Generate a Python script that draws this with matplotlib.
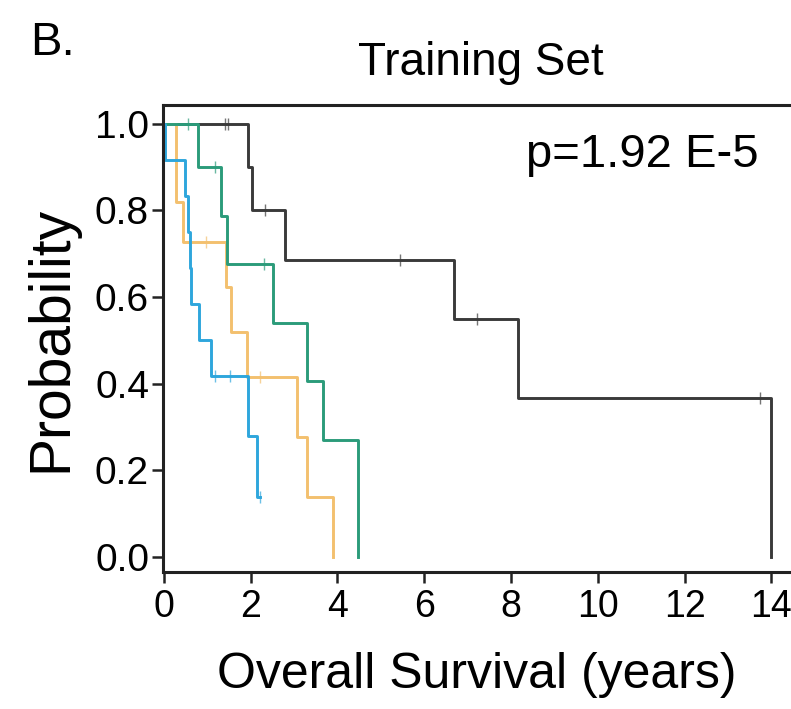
import matplotlib.pyplot as plt

plt.rcParams['font.family'] = ['Liberation Sans', 'DejaVu Sans']

# Kaplan-Meier steps (time in years, survival probability)
black_t = [0.0, 1.94, 2.02, 2.79, 6.68, 8.16, 14.0]
black_s = [1.0, 0.90, 0.80, 0.686, 0.549, 0.366, 0.0]
black_ct = [1.41, 1.47, 2.33, 5.45, 7.21, 13.73]
black_cs = [1.0, 1.0, 0.80, 0.686, 0.549, 0.366]

yellow_t = [0.0, 0.28, 0.29, 0.44, 1.43, 1.54, 1.92, 3.06, 3.29, 3.90]
yellow_s = [1.0, 0.909, 0.818, 0.727, 0.623, 0.519, 0.415, 0.277, 0.138, 0.0]
yellow_ct = [0.97, 2.21]
yellow_cs = [0.727, 0.415]

green_t = [0.0, 0.78, 1.31, 1.45, 2.51, 3.29, 3.66, 4.47]
green_s = [1.0, 0.90, 0.7875, 0.675, 0.54, 0.405, 0.27, 0.0]
green_ct = [0.55, 1.18, 2.31]
green_cs = [1.0, 0.90, 0.675]

blue_t = [0.0, 0.02, 0.48, 0.56, 0.60, 0.62, 0.81, 1.08, 1.94, 2.15, 2.21]
blue_s = [1.0, 0.917, 0.833, 0.75, 0.667, 0.583, 0.50, 0.417, 0.278, 0.139, 0.139]
blue_ct = [1.18, 1.52, 2.21]
blue_cs = [0.417, 0.417, 0.139]

x_ticks = [0, 2, 4, 6, 8, 10, 12, 14]
y_ticks = [0.0, 0.2, 0.4, 0.6, 0.8, 1.0]

groups = [
    (black_t, black_s, black_ct, black_cs, '#3a3a3a'),
    (yellow_t, yellow_s, yellow_ct, yellow_cs, '#f3c06e'),
    (green_t, green_s, green_ct, green_cs, '#2b9b7a'),
    (blue_t, blue_s, blue_ct, blue_cs, '#2ea6dc'),
]

fig = plt.figure(figsize=(7.91, 7.09), dpi=100)
ax = fig.add_axes([163 / 791, 1 - 572 / 709, 1 - 163 / 791, (572 - 105) / 709])

for t, s, ct, cs, col in groups:
    ax.step(t, s, where='post', color=col, lw=2.1)
    ax.plot(ct, cs, ls='none', marker='|', ms=9, mew=1.0, color=col, alpha=0.7)

ax.set_xlim(-0.02, 14.45)
ax.set_ylim(-0.035, 1.043)
ax.set_xticks(x_ticks)
ax.set_xticklabels([str(v) for v in x_ticks])
ax.set_yticks(y_ticks)
ax.set_yticklabels([f'{v:.1f}' for v in y_ticks])
ax.tick_params(axis='both', length=8, width=1.8, color='#222222')
ax.tick_params(axis='y', labelsize=28, pad=2)
ax.tick_params(axis='x', labelsize=27, pad=4)

for side in ['left', 'bottom', 'top']:
    ax.spines[side].set_linewidth(2.2)
    ax.spines[side].set_color('#222222')
ax.spines['right'].set_visible(False)

ax.set_xlabel('Overall Survival (years)', fontsize=36, labelpad=20)
ax.set_ylabel('Probability', fontsize=41, labelpad=12)

fig.text(30 / 791, 1 - 55 / 709, 'B.', fontsize=34, va='baseline', ha='left')
fig.text(481 / 791, 1 - 75 / 709, 'Training Set', fontsize=33, va='baseline', ha='center')
fig.text(526 / 791, 1 - 167 / 709, 'p=1.92 E-5', fontsize=34, va='baseline', ha='left')

fig.savefig('out.png', dpi=100)
